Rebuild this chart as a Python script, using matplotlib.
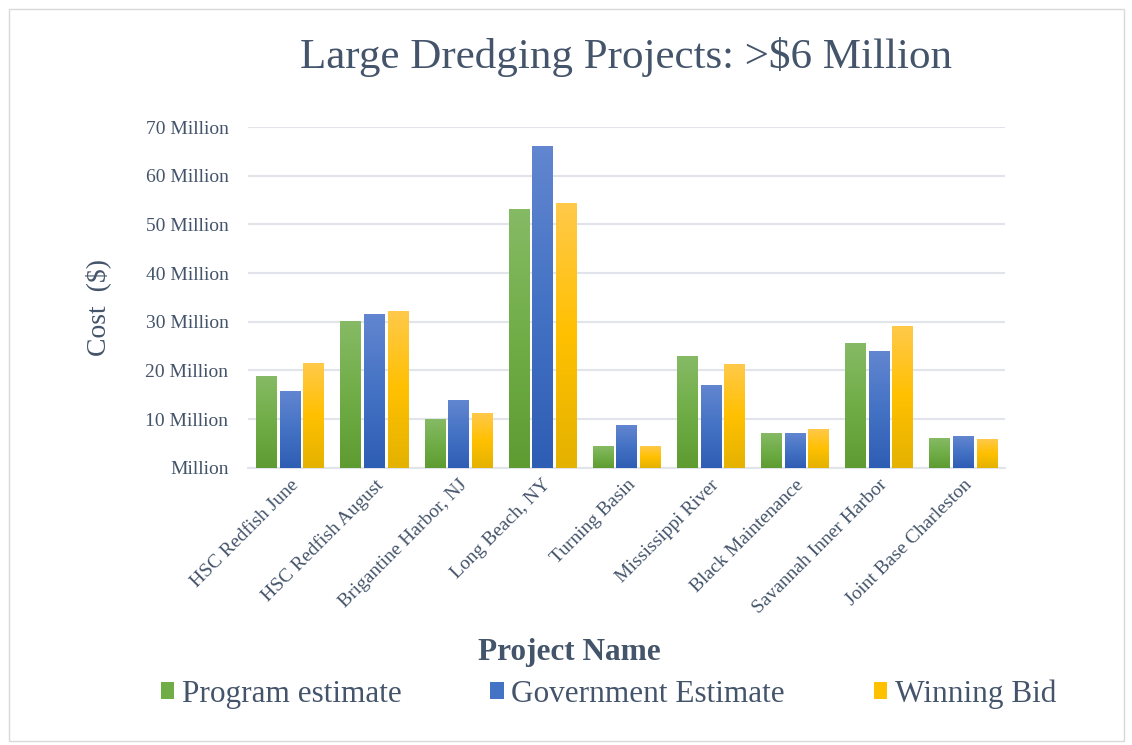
import numpy as np
import matplotlib
matplotlib.use('Agg')
from matplotlib import pyplot as plt
from matplotlib.colors import LinearSegmentedColormap
from matplotlib.patches import Rectangle, Patch
from matplotlib.ticker import FuncFormatter

# данные графика (млн $)
projects = ['HSC Redfish June', 'HSC Redfish August', 'Brigantine Harbor, NJ', 'Long Beach, NY',
            'Turning Basin', 'Mississippi River', 'Black Maintenance', 'Savannah Inner Harbor',
            'Joint Base Charleston']
program_estimate = [18.7, 30.0, 9.9, 53.0, 4.5, 22.8, 7.0, 25.5, 6.0]
government_estimate = [15.8, 31.6, 13.8, 66.1, 8.8, 17.0, 7.0, 24.0, 6.4]
winning_bid = [21.4, 32.2, 11.1, 54.4, 4.5, 21.2, 8.0, 29.0, 5.8]
series_names = ['Program estimate', 'Government Estimate', 'Winning Bid']

TXT = '#44546A'
GRID = '#E1E4EA'
# градиенты: верх, середина, низ
grads = [
    ['#86BA65', '#70AD47', '#5E9C32'],
    ['#6286D0', '#4472C4', '#2E5DB4'],
    ['#FFC94A', '#FFC000', '#E4B200'],
]

plt.rcParams['font.family'] = ['Liberation Serif', 'DejaVu Serif']

fig = plt.figure(figsize=(11.32, 7.45), dpi=100)
fig.patches.append(Rectangle((0.008, 0.005), 0.985, 0.983, transform=fig.transFigure,
                             fill=False, edgecolor='#D9D9D9', lw=1))
ax = fig.add_axes([0.219, 0.372, 0.669, 0.4575])

x = np.arange(len(projects))
w = 0.24
off = 0.28
for i, vals in enumerate([program_estimate, government_estimate, winning_bid]):
    bars = ax.bar(x + (i - 1) * off, vals, w, color='none', zorder=3, label=series_names[i])
    cmap = LinearSegmentedColormap.from_list('g%d' % i, grads[i][::-1])
    grad = np.linspace(0, 1, 256).reshape(-1, 1)
    for b in bars:
        ax.imshow(grad, cmap=cmap, origin='lower', aspect='auto', zorder=3,
                  extent=[b.get_x(), b.get_x() + b.get_width(), 0, b.get_height()])

ax.set_xlim(-0.5, len(projects) - 0.5)
ax.set_ylim(0, 70)
ax.set_yticks(np.arange(0, 71, 10))
ax.yaxis.set_major_formatter(FuncFormatter(lambda v, p: 'Million' if v == 0 else '%d Million' % v))
ax.grid(axis='y', color=GRID, lw=1.5, zorder=0)
for s in ['top', 'right', 'left']:
    ax.spines[s].set_visible(False)
ax.spines['bottom'].set_color(GRID)
ax.spines['bottom'].set_linewidth(1.5)
ax.tick_params(axis='both', length=0, colors=TXT)
ax.tick_params(axis='y', labelsize=14, pad=14)
ax.set_xticks(x)
ax.set_xticklabels(projects, rotation=45, ha='right', rotation_mode='anchor', fontsize=14, color=TXT)
ax.tick_params(axis='x', pad=6)

fig.text(98 / 1132, 1 - 308 / 745, 'Cost  ($)', rotation=90, ha='center', va='center',
         fontsize=20, color=TXT)
fig.text(569 / 1132, 1 - 660 / 745, 'Project Name', ha='center', va='baseline',
         fontsize=22.5, color=TXT, fontweight='bold')
fig.text(626 / 1132, 1 - 68 / 745, 'Large Dredging Projects: >$6 Million', ha='center', va='baseline',
         fontsize=31, color=TXT)

# легенда
handles = [Patch(facecolor=grads[i][1], edgecolor='none') for i in range(3)]
leg = fig.legend(handles, series_names, loc='center', bbox_to_anchor=(0.5376, 0.0685), ncol=3,
                 frameon=False, fontsize=22.5, handlelength=0.42, handleheight=0.42,
                 handletextpad=0.25, columnspacing=2.85, labelcolor=TXT)

fig.savefig('out.png', dpi=100)
